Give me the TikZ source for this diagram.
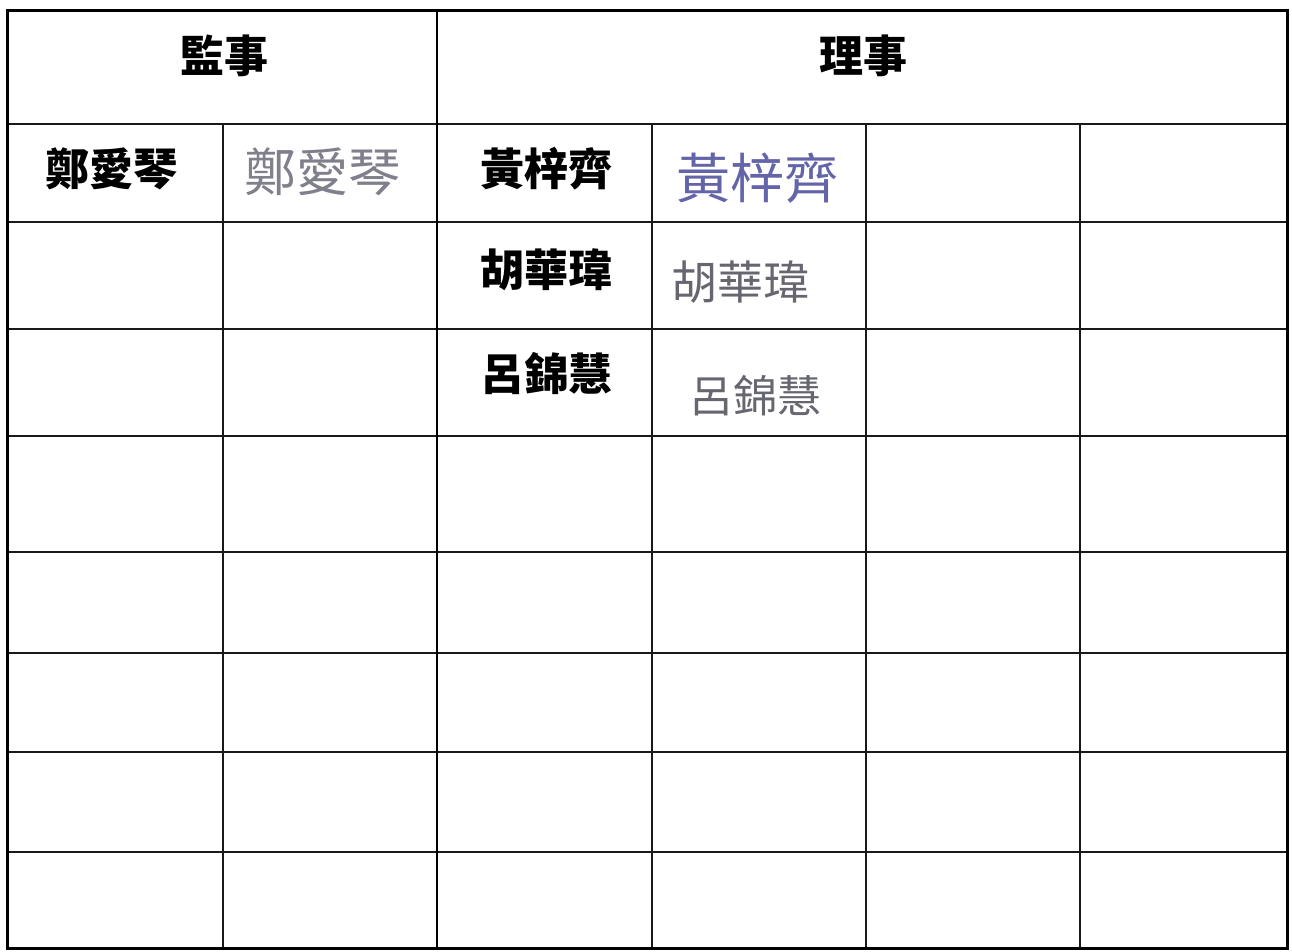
\documentclass[tikz,border=0pt]{standalone}
\usepackage{fontspec}
\newfontfamily\cjk{Noto Sans CJK TC}
\definecolor{inkgray}{HTML}{6A6A78}
\definecolor{inkblue}{HTML}{4A4A9A}
\definecolor{inkdark}{HTML}{4C4C58}
\tikzset{
  outer/.style={line width=3pt, black},
  divider/.style={line width=2.6pt, black},
  rowline/.style={line width=2pt, black!90},
  colline/.style={line width=1.3pt, black!90},
  printed/.style={font=\cjk\bfseries\fontsize{44}{48}\selectfont, inner sep=0pt, anchor=center},
  signature/.style={font=\cjk\fontsize{#1}{#1}\selectfont, inner sep=0pt, anchor=center, opacity=0.85},
}
\begin{document}
\begin{tikzpicture}[x=1pt, y=-1pt]
\useasboundingbox (0,0) rectangle (1292,951);
\fill[white] (0,0) rectangle (1292,951);
% row lines
\foreach \yy in {124,222,329,436,552,653,752,852} {
  \draw[rowline] (7,\yy) -- (1287,\yy);
}
% column lines
\foreach \xx in {223,652,866,1080} {
  \draw[colline] (\xx,124) -- (\xx,948);
}
% middle divider
\draw[divider] (437,10) -- (437,948);
% outer border
\draw[outer] (7,10) rectangle (1287,948);

% headers
\node[printed] (hdrA) at (224,56) {監事};
\node[printed] (hdrB) at (863,56) {理事};

% names
\node[printed] (n1) at (111,169) {鄭愛琴};
\node[printed] (n2) at (546,169) {黃梓齊};
\node[printed] (n3) at (546,270) {胡華瑋};
\node[printed] (n4) at (546,373) {呂錦慧};

% signatures
\node[signature=52, text=inkgray] (s1) at (322,172) {鄭愛琴};
\node[signature=54, text=inkblue] (s2) at (757,178) {黃梓齊};
\node[signature=46, text=inkdark] (s3) at (740,282) {胡華瑋};
\node[signature=44, text=inkdark] (s4) at (755,396) {呂錦慧};
\end{tikzpicture}
\end{document}
